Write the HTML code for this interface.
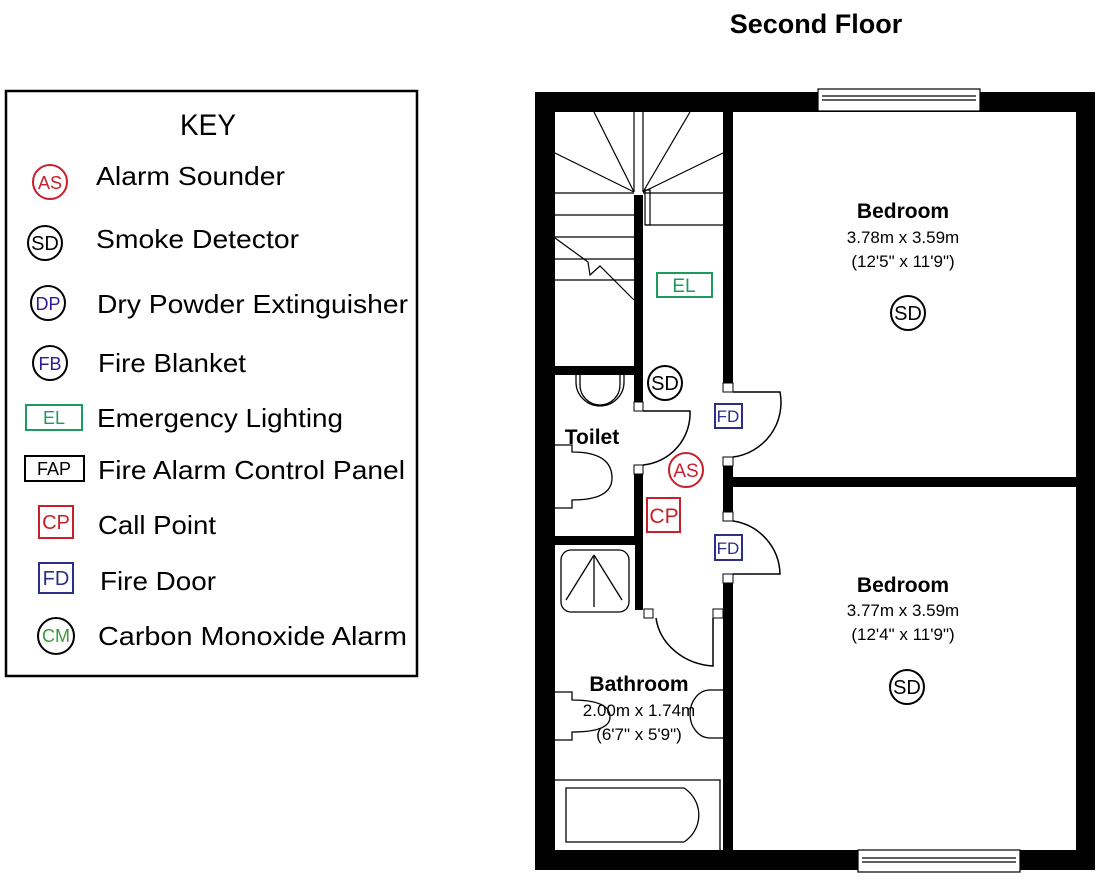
<!DOCTYPE html>
<html><head><meta charset="utf-8"><style>
html,body{margin:0;padding:0;background:#fff;}
svg{display:block;}
</style></head><body>
<svg width="1104" height="880" viewBox="0 0 1104 880" xmlns="http://www.w3.org/2000/svg" font-family="Liberation Sans, sans-serif">
<rect width="1104" height="880" fill="#fff"/>
<text x="816" y="33" font-size="27" font-weight="bold" text-anchor="middle">Second Floor</text>

<!-- KEY -->
<rect x="6" y="91" width="411" height="585" fill="none" stroke="#000" stroke-width="2.5"/>
<text x="180" y="135" font-size="30" textLength="56" lengthAdjust="spacingAndGlyphs">KEY</text>
<g font-size="26">
<text x="96" y="185" textLength="189" lengthAdjust="spacingAndGlyphs">Alarm Sounder</text>
<text x="96" y="248" textLength="203" lengthAdjust="spacingAndGlyphs">Smoke Detector</text>
<text x="97" y="313" textLength="311" lengthAdjust="spacingAndGlyphs">Dry Powder Extinguisher</text>
<text x="98" y="372" textLength="148" lengthAdjust="spacingAndGlyphs">Fire Blanket</text>
<text x="97" y="427" textLength="246" lengthAdjust="spacingAndGlyphs">Emergency Lighting</text>
<text x="98" y="479" textLength="307" lengthAdjust="spacingAndGlyphs">Fire Alarm Control Panel</text>
<text x="98" y="534" textLength="118" lengthAdjust="spacingAndGlyphs">Call Point</text>
<text x="100" y="590" textLength="116" lengthAdjust="spacingAndGlyphs">Fire Door</text>
<text x="98" y="645" textLength="309" lengthAdjust="spacingAndGlyphs">Carbon Monoxide Alarm</text>
</g>
<g font-size="17" text-anchor="middle" stroke-width="2" fill="none">
<circle cx="50" cy="182" r="17" stroke="#c8202a"/>
<circle cx="45" cy="243" r="17" stroke="#000"/>
<circle cx="48" cy="303" r="17" stroke="#000"/>
<circle cx="50" cy="363" r="17" stroke="#000"/>
<rect x="26" y="405" width="56" height="25" stroke="#1f9a5f"/>
<rect x="25" y="456" width="59" height="25" stroke="#000"/>
<rect x="39" y="506" width="34" height="32" stroke="#c8202a"/>
<rect x="39" y="563" width="34" height="30" stroke="#2c2f85"/>
<circle cx="56" cy="636" r="18" stroke="#000"/>
</g>
<g font-size="18" text-anchor="middle">
<text x="50" y="189" fill="#c8202a">AS</text>
<text x="45" y="250" font-size="20" fill="#000">SD</text>
<text x="48" y="310" fill="#2a1a9a">DP</text>
<text x="50" y="370" fill="#2a1a9a">FB</text>
<text x="54" y="424" fill="#1f9a5f">EL</text>
<text x="54" y="475" fill="#000">FAP</text>
<text x="56" y="529" font-size="20" fill="#c8202a">CP</text>
<text x="56" y="585" font-size="20" fill="#2c2f85">FD</text>
<text x="56" y="642" fill="#3a9a3a">CM</text>
</g>

<!-- FLOOR PLAN walls -->
<g fill="#000">
<rect x="535" y="92" width="560" height="20"/>
<rect x="535" y="850" width="560" height="20"/>
<rect x="535" y="92" width="20" height="778"/>
<rect x="1076" y="92" width="19" height="778"/>
<rect x="723" y="112" width="10" height="271"/>
<rect x="723" y="466" width="10" height="46"/>
<rect x="723" y="583" width="10" height="267"/>
<rect x="733" y="477" width="343" height="10"/>
<rect x="634" y="195" width="9" height="207"/>
<rect x="555" y="366" width="88" height="9"/>
<rect x="634" y="465" width="9" height="80"/>
<rect x="555" y="536" width="88" height="9"/>
<rect x="635" y="545" width="8" height="65"/>
</g>
<!-- windows -->
<g fill="#fff" stroke="#000" stroke-width="1.2">
<rect x="818" y="89" width="162" height="22"/>
<line x1="822" y1="96" x2="976" y2="96"/><line x1="822" y1="100" x2="976" y2="100"/>
<rect x="858" y="850" width="162" height="22"/>
<line x1="862" y1="858" x2="1016" y2="858"/><line x1="862" y1="862" x2="1016" y2="862"/>
</g>
<!-- jamb squares -->
<g fill="#fff" stroke="#000" stroke-width="1">
<rect x="723" y="383" width="10" height="9"/><rect x="723" y="457" width="10" height="9"/>
<rect x="723" y="512" width="10" height="9"/><rect x="723" y="574" width="10" height="9"/>
<rect x="634" y="402" width="9" height="9"/><rect x="634" y="465" width="9" height="9"/>
<rect x="644" y="609" width="9" height="9"/><rect x="713" y="609" width="10" height="9"/>
</g>
<!-- doors -->
<g fill="none" stroke="#000" stroke-width="1.5">
<path d="M733,392 H780 A55,55 0 0 1 733,457"/>
<path d="M643,411 H690 A52,52 0 0 1 643,465"/>
<path d="M733,574 H780 A55,55 0 0 0 733,521"/>
<path d="M713,618 V666 A62,55 0 0 1 656,618"/>
</g>
<!-- stairs -->
<g fill="none" stroke="#000" stroke-width="1.2">
<line x1="555" y1="193" x2="634" y2="193"/>
<line x1="643" y1="193" x2="723" y2="193"/>
<line x1="555" y1="215" x2="634" y2="215"/>
<line x1="555" y1="237" x2="634" y2="237"/>
<line x1="555" y1="259" x2="634" y2="259"/>
<line x1="555" y1="280" x2="634" y2="280"/>
<line x1="646" y1="225" x2="723" y2="225"/>
<line x1="634" y1="192" x2="594" y2="112"/>
<line x1="634" y1="192" x2="555" y2="153"/>
<line x1="634" y1="192" x2="634" y2="112"/>
<line x1="643" y1="192" x2="643" y2="112"/>
<line x1="643" y1="192" x2="690" y2="112"/>
<line x1="643" y1="192" x2="723" y2="153"/>
<path d="M555,238 L588,262 L590,275 L600,266 L634,300"/>
<rect x="645" y="190" width="5" height="35"/>
</g>
<!-- fixtures -->
<g fill="none" stroke="#000" stroke-width="1.3">
<path d="M576,375 V382 A24,24 0 0 0 624,382 V375"/>
<path d="M580,375 V385 A20,20 0 0 0 620,385 V375"/>
<path d="M555,445 H572 V452 Q612,452 612,478 Q612,500 572,500 V508 H555"/>
<rect x="561" y="550" width="68" height="62" rx="10"/>
<line x1="594" y1="555" x2="594" y2="607"/>
<line x1="594" y1="555" x2="566" y2="600"/><line x1="594" y1="555" x2="622" y2="600"/>
<path d="M555,692 H572 V700 Q610,700 610,717 Q610,732 572,732 V740 H555"/>
<path d="M723,690 H710 A20,24 0 0 0 710,738 H723"/>
<path d="M555,780 H720 V850"/>
<path d="M566,788 H684 A32,32 0 0 1 684,842 H566 Z"/>
</g>
<!-- room labels -->
<g text-anchor="middle" fill="#000">
<text x="903" y="218" font-size="21" font-weight="bold">Bedroom</text>
<text x="903" y="243" font-size="17">3.78m x 3.59m</text>
<text x="903" y="267" font-size="17">(12'5" x 11'9")</text>
<text x="903" y="592" font-size="21" font-weight="bold">Bedroom</text>
<text x="903" y="616" font-size="17">3.77m x 3.59m</text>
<text x="903" y="640" font-size="17">(12'4" x 11'9")</text>
<text x="639" y="691" font-size="21" font-weight="bold">Bathroom</text>
<text x="639" y="716" font-size="17">2.00m x 1.74m</text>
<text x="639" y="740" font-size="17">(6'7" x 5'9")</text>
<text x="592" y="444" font-size="21" font-weight="bold">Toilet</text>
</g>
<!-- symbols on plan -->
<g fill="none" stroke-width="2">
<rect x="657" y="273" width="55" height="24" stroke="#1f9a5f"/>
<circle cx="665" cy="383" r="17" stroke="#000"/>
<rect x="715" y="404" width="27" height="24" stroke="#2c2f85"/>
<circle cx="686" cy="470" r="17" stroke="#c8202a"/>
<rect x="647" y="498" width="33" height="34" stroke="#c8202a"/>
<rect x="715" y="535" width="27" height="25" stroke="#2c2f85"/>
<circle cx="908" cy="313" r="17" stroke="#000"/>
<circle cx="907" cy="687" r="17" stroke="#000"/>
</g>
<g text-anchor="middle">
<text x="684" y="292" font-size="19" fill="#1f9a5f">EL</text>
<text x="665" y="390" font-size="20">SD</text>
<text x="728" y="422" font-size="17" fill="#2c2f85">FD</text>
<text x="686" y="477" font-size="19" fill="#c8202a">AS</text>
<text x="664" y="523" font-size="21" fill="#c8202a">CP</text>
<text x="728" y="554" font-size="17" fill="#2c2f85">FD</text>
<text x="908" y="320" font-size="20">SD</text>
<text x="907" y="694" font-size="20">SD</text>
</g>
</svg>
</body></html>
